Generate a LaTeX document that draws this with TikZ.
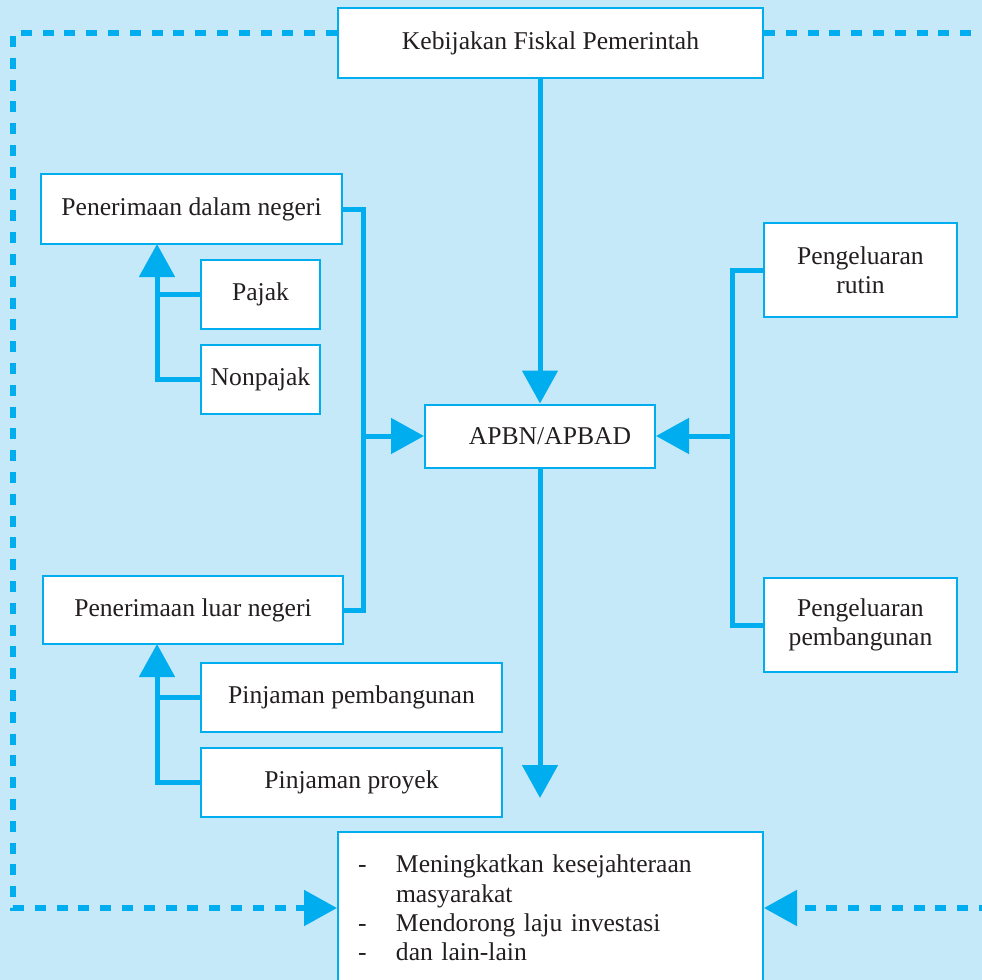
\documentclass[tikz,border=0pt]{standalone}
\usepackage{fontspec}
\setmainfont{Liberation Serif}
\usetikzlibrary{arrows.meta,calc}
\definecolor{bgblue}{RGB}{198,233,249}
\definecolor{lineblue}{RGB}{0,174,239}
\definecolor{textgray}{RGB}{35,31,32}
\tikzset{
box/.style = {draw=lineblue,fill=white,line width=1pt,inner sep=0pt,align=center,text=textgray,font=\fontsize{12.8pt}{14.6pt}\selectfont},
conn/.style = {line width=2.5pt,color=lineblue},
arr/.style = {conn,-{Triangle[length=16.5pt,width=17.5pt]}},
feed/.style = {line width=2.6pt,color=lineblue,dash pattern=on 5.5pt off 5.4pt}
}

\begin{document}
\begin{tikzpicture}[x=0.5pt,y=-0.5pt]
%
\useasboundingbox (0,0) rectangle (982,980);
\clip (0,0) rectangle (982,980);
\fill[bgblue] (0,0) rectangle (982,980);
%
\node[box,minimum width=212.5pt,minimum height=35pt] (kebijakan) at (550.5,43){Kebijakan Fiskal Pemerintah};
\node[box,minimum width=115pt,minimum height=31.5pt] (apbn) at (540,436){\hspace*{10pt}APBN/APBAD};
%
\node[box,minimum width=150.5pt,minimum height=35pt] (dalam) at (191.5,209){Penerimaan dalam negeri};
\node[box,minimum width=150pt,minimum height=34pt] (luar) at (193,610){Penerimaan luar negeri};
%
\foreach \name/\x/\y/\w/\txt in {pajak/260.5/294.5/59.5/Pajak,nonpajak/260.5/379/59.5/Nonpajak,
pinjpemb/351.5/697.5/150.5/Pinjaman pembangunan,proyek/351.5/782.5/150.5/Pinjaman proyek}{
\node[box,minimum width=\w pt,minimum height=34.5pt] (\name) at (\x,\y){\txt};
}
%
\foreach \name/\y/\txt in {rutin/270/rutin,pemb/625/pembangunan}{
\node[box,minimum width=96.5pt,minimum height=47pt] (\name) at (860.5,\y){Pengeluaran\\\txt};
}
%
\node[box,minimum width=212.5pt,minimum height=76pt,inner xsep=10pt,text width=192.5pt,align=left] (tujuan) at (550.5,908){%
\makebox[19pt][l]{-}Meningkatkan kesejahteraan\\
\hspace*{19pt}masyarakat\\
\makebox[19pt][l]{-}Mendorong laju investasi\\
\makebox[19pt][l]{-}dan lain-lain};
%
\coordinate (lbus) at (363,436);
\coordinate (rbus) at (732,436);
\coordinate (pbus) at (157,244);
\coordinate (qbus) at (157,644);
\coordinate (hasil) at (540,798);
\coordinate (ftl) at (13,33);
\coordinate (fbl) at (13,908);
\coordinate (redge) at (990,908);
%
\draw[arr] (kebijakan.south -| apbn.north)--(apbn.north);
\draw[arr] (apbn.south)--(hasil);
%
\draw[conn] (dalam.east)-|(lbus)|-(luar.east);
\draw[arr] (lbus)--(apbn.west);
\draw[conn] (rutin.west)-|(rbus)|-(pemb.west);
\draw[arr] (rbus)--(apbn.east);
%
\draw[conn] (pajak.west)--(pajak.west -| pbus);
\draw[arr] (nonpajak.west)-|(pbus);
\draw[conn] (pinjpemb.west)--(pinjpemb.west -| qbus);
\draw[arr] (proyek.west)-|(qbus);
%
\draw[feed,-{Triangle[length=16.5pt,width=17.5pt]}] ($(kebijakan.west)+(0,-10)$)-|(fbl)--(tujuan.west);
\draw[feed] ($(kebijakan.east)+(0,-10)$)--++(230,0);
\draw[feed,-{Triangle[length=16.5pt,width=17.5pt]}] (redge)--(tujuan.east);
%
\end{tikzpicture}
\end{document}
